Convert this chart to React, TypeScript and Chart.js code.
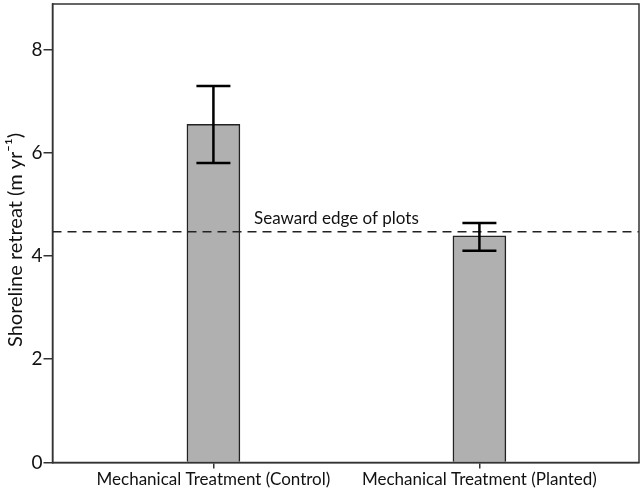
import React, { useEffect, useRef } from "react";
import { Chart, registerables } from "chart.js";

Chart.register(...registerables);

const categories = ["Mechanical Treatment (Control)", "Mechanical Treatment (Planted)"];
const categoryPositions = [1, 2];
const meanValues = [6.55, 4.39];
const errorLow = [5.8, 4.1];
const errorHigh = [7.29, 4.64];
const yTicks = [0, 2, 4, 6, 8];
const seawardEdge = 4.47;
const seawardLabel = "Seaward edge of plots";
const yTitle = "Shoreline retreat (m yr\u207B\u00B9)";

const FONT = "Lato, 'Open Sans', sans-serif";

const overlayPlugin = {
  id: "overlay",
  afterDatasetsDraw(chart: any) {
    const { ctx, chartArea, scales } = chart;
    const xs = scales.x;
    const ys = scales.y;
    ctx.save();
    const yLine = ys.getPixelForValue(seawardEdge);
    ctx.strokeStyle = "#222";
    ctx.lineWidth = 1.6;
    ctx.setLineDash([9, 6]);
    ctx.beginPath();
    ctx.moveTo(chartArea.left, yLine);
    ctx.lineTo(chartArea.right, yLine);
    ctx.stroke();
    ctx.setLineDash([]);
    ctx.fillStyle = "#111";
    ctx.font = `17px ${FONT}`;
    ctx.textAlign = "left";
    ctx.textBaseline = "alphabetic";
    ctx.fillText(seawardLabel, 254, yLine - 8);
    ctx.strokeStyle = "#000";
    ctx.lineWidth = 2.5;
    categoryPositions.forEach((p, i) => {
      const x = xs.getPixelForValue(p);
      const yLo = ys.getPixelForValue(errorLow[i]);
      const yHi = ys.getPixelForValue(errorHigh[i]);
      ctx.beginPath();
      ctx.moveTo(x, yLo);
      ctx.lineTo(x, yHi);
      ctx.moveTo(x - 17, yLo);
      ctx.lineTo(x + 17, yLo);
      ctx.moveTo(x - 17, yHi);
      ctx.lineTo(x + 17, yHi);
      ctx.stroke();
    });
    ctx.strokeStyle = "#333";
    ctx.lineWidth = 1.5;
    ctx.strokeRect(chartArea.left, chartArea.top, chartArea.right - chartArea.left, chartArea.bottom - chartArea.top);
    // y-axis title
    ctx.translate(16, 240);
    ctx.rotate(-Math.PI / 2);
    ctx.fillStyle = "#111";
    ctx.font = `20px ${FONT}`;
    ctx.textAlign = "center";
    ctx.textBaseline = "middle";
    ctx.fillText(yTitle, 0, 0);
    ctx.restore();
  },
};

export default function App() {
  const ref = useRef<HTMLCanvasElement | null>(null);
  useEffect(() => {
    if (!ref.current) return;
    const chart = new Chart(ref.current, {
      type: "bar",
      data: {
        datasets: [
          {
            data: categoryPositions.map((p, i) => ({ x: p, y: meanValues[i] })),
            backgroundColor: "#b0b0b0",
            borderColor: "#222",
            borderWidth: 1.5,
            barThickness: 53,
          } as any,
        ],
      },
      options: {
        animation: false,
        responsive: false,
        maintainAspectRatio: false,
        layout: { padding: { top: 4, right: 5, left: 0, bottom: 0 } },
        plugins: { legend: { display: false }, tooltip: { enabled: false } },
        scales: {
          x: {
            type: "linear",
            offset: false,
            min: 0.395,
            max: 2.6,
            afterBuildTicks: (scale: any) => {
              scale.ticks = categoryPositions.map((v) => ({ value: v }));
            },
            afterFit: (scale: any) => {
              scale.height = 30.5;
              scale.paddingLeft = 0;
              scale.paddingRight = 0;
            },
            ticks: {
              autoSkip: false,
              maxRotation: 0,
              padding: 1,
              color: "#111",
              font: { family: FONT, size: 17 },
              callback: (v: any) => {
                const i = categoryPositions.indexOf(Number(v));
                return i >= 0 ? categories[i] : "";
              },
            },
            grid: { drawOnChartArea: false, offset: false, tickLength: 6, color: "#333", lineWidth: 1.5 },
            border: { display: true, color: "#333", width: 1.5 },
          },
          y: {
            type: "linear",
            min: 0,
            max: 8.88,
            afterBuildTicks: (scale: any) => {
              scale.ticks = yTicks.map((v) => ({ value: v }));
            },
            afterFit: (scale: any) => {
              scale.width = 52.5;
              scale.paddingTop = 0;
              scale.paddingBottom = 0;
            },
            ticks: {
              padding: 1,
              color: "#111",
              font: { family: FONT, size: 19 },
            },
            title: { display: false },
            grid: { drawOnChartArea: false, tickLength: 9, color: "#333", lineWidth: 1.5 },
            border: { display: true, color: "#333", width: 1.5 },
          },
        },
      },
      plugins: [overlayPlugin],
    } as any);
    return () => chart.destroy();
  }, []);
  return (
    <div style={{ position: "fixed", left: 0, top: 0, width: 644, height: 493, background: "#fff" }}>
      <canvas ref={ref} width={644} height={493} style={{ width: 644, height: 493 }} />
    </div>
  );
}
